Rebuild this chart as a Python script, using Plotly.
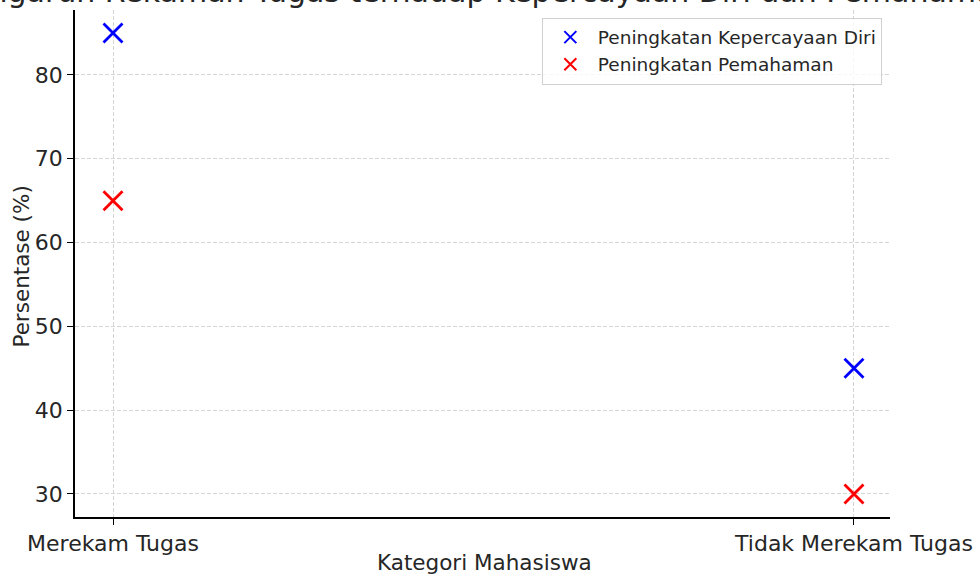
import plotly.graph_objects as go

categories = ["Merekam Tugas", "Tidak Merekam Tugas"]
kepercayaan_diri = [85, 45]
pemahaman = [65, 30]
series_names = ["Peningkatan Kepercayaan Diri", "Peningkatan Pemahaman"]
title_text = "Pengaruh Rekaman Tugas terhadap Kepercayaan Diri dan Pemahaman"
x_title = "Kategori Mahasiswa"
y_title = "Persentase (%)"

font_family = "DejaVu Sans"
text_color = "#262626"

fig = go.Figure()
for vals, name, color in [(kepercayaan_diri, series_names[0], "blue"),
                          (pemahaman, series_names[1], "red")]:
    fig.add_trace(go.Scatter(
        x=categories, y=vals, mode="markers", name=name,
        marker=dict(symbol="x-thin", size=19, color=color,
                    line=dict(color=color, width=2.8)),
    ))

fig.update_layout(
    width=980, height=577,
    margin=dict(l=75, r=90, t=10, b=60),
    paper_bgcolor="white", plot_bgcolor="white",
    font=dict(family=font_family, size=22, color=text_color),
    showlegend=True,
    legend=dict(x=0.99, y=0.985, xanchor="right", yanchor="top",
                bgcolor="rgba(255,255,255,0.8)", bordercolor="#d0d0d0",
                borderwidth=1, font=dict(size=18.5, color=text_color),
                tracegroupgap=0, itemsizing="constant", itemwidth=45),
    annotations=[
        dict(text=title_text, xref="paper", yref="paper",
             x=0.5, y=1, xanchor="center", yanchor="bottom",
             yshift=-1, showarrow=False,
             font=dict(size=30, color=text_color, family=font_family)),
        dict(text=x_title, xref="paper", yref="paper",
             x=0.502, y=-0.0907, xanchor="center", yanchor="middle",
             showarrow=False, font=dict(size=21.5, color=text_color)),
        dict(text=y_title, xref="paper", yref="paper", textangle=-90,
             x=-0.065, y=0.494, xanchor="center", yanchor="middle",
             showarrow=False, font=dict(size=21.5, color=text_color)),
    ],
)
fig.update_xaxes(
    type="category", range=[-0.0513, 1.0486], automargin=False,
    showline=True, linecolor="black", linewidth=1.5, mirror=False,
    ticks="outside", ticklen=6, tickwidth=1.3, tickcolor="black",
    showgrid=True, gridcolor="#d5d5d5", griddash="4px,2px", gridwidth=1,
    zeroline=False,
)
fig.update_yaxes(
    range=[27.25, 87.75], tickvals=[30, 40, 50, 60, 70, 80], automargin=False,
    showline=True, linecolor="black", linewidth=1.5, mirror=False,
    ticks="outside", ticklen=6, tickwidth=1.3, tickcolor="black",
    showgrid=True, gridcolor="#d5d5d5", griddash="4px,2px", gridwidth=1,
    zeroline=False,
)

fig.write_html("out.html", config={"displayModeBar": False},
               post_script="document.body.style.margin='0';")
